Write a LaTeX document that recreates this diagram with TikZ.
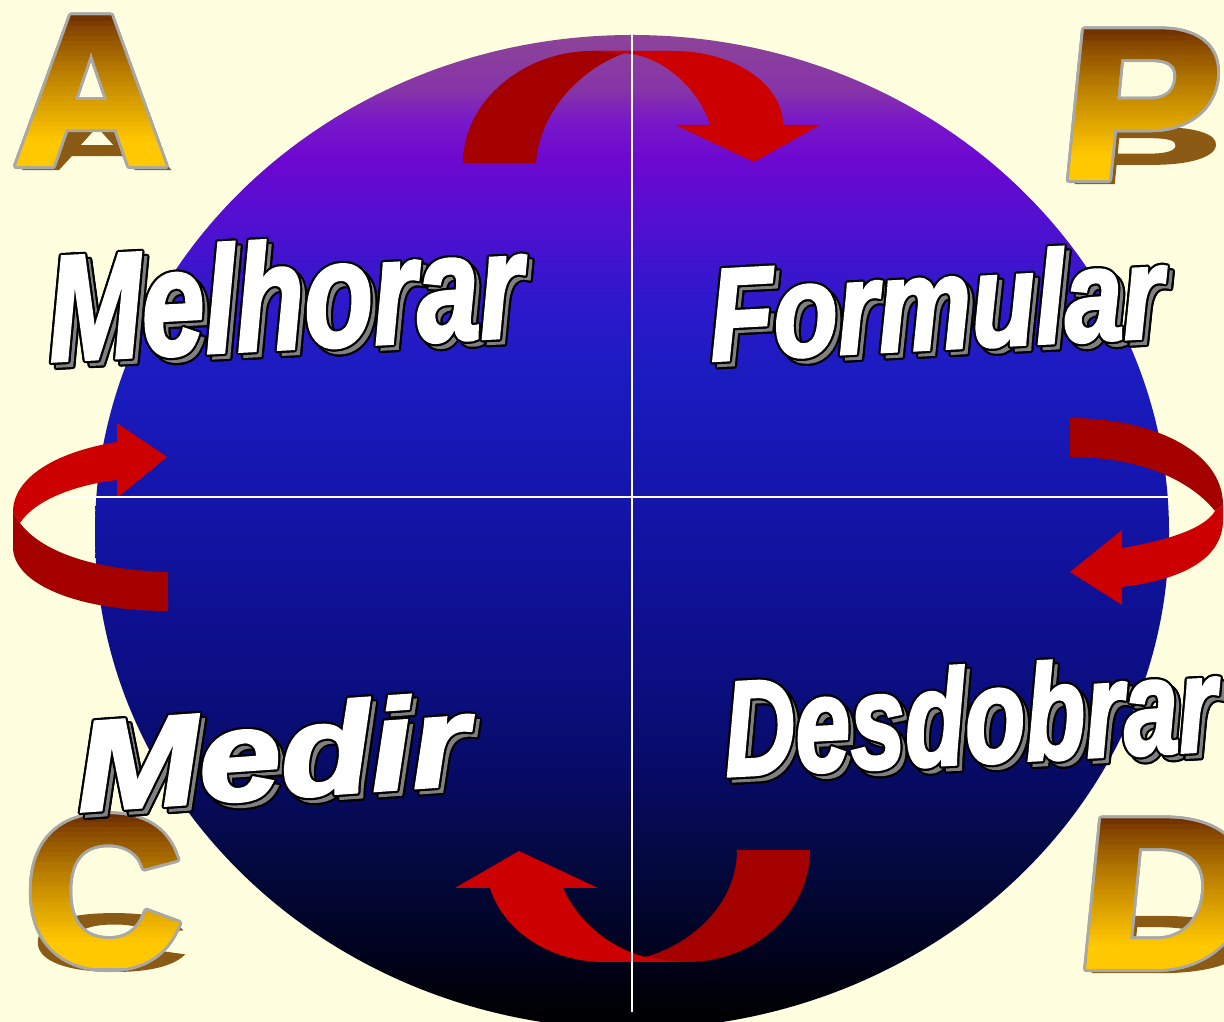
\documentclass[tikz,border=0pt]{standalone}
\usepackage{fontspec}
\newfontfamily\letterfont{Liberation Sans}[BoldFeatures={FakeBold=3}]
\newfontfamily\wafont{Liberation Sans}[BoldItalicFeatures={FakeBold=2.5}]

\definecolor{bgcream}{HTML}{FFFFE0}
\definecolor{arrowDark}{HTML}{A50000}
\definecolor{arrowLight}{HTML}{CC0000}
\definecolor{goldTop}{HTML}{5A1800}
\definecolor{goldBot}{HTML}{FFC800}
\definecolor{goldEdge}{HTML}{A8A8A8}
\definecolor{goldShadow}{HTML}{8B5A14}
\definecolor{waShadow}{HTML}{808080}

% degrade do globo (de baixo para cima)
\definecolor{g01}{HTML}{000008}
\definecolor{g02}{HTML}{00021A}
\definecolor{g03}{HTML}{020630}
\definecolor{g04}{HTML}{040A48}
\definecolor{g05}{HTML}{070A62}
\definecolor{g06}{HTML}{0A0E7C}
\definecolor{g07}{HTML}{0E1090}
\definecolor{g08}{HTML}{1616B0}
\definecolor{g09}{HTML}{1A1CC0}
\definecolor{g10}{HTML}{2E18CC}
\definecolor{g11}{HTML}{5010D0}
\definecolor{g12}{HTML}{6C08D0}
\definecolor{g13}{HTML}{7818C8}
\definecolor{g14}{HTML}{8634A8}
\definecolor{g15}{HTML}{8C4498}
\pgfdeclareverticalshading{globeshade}{100bp}{color(0bp)=(black); color(25bp)=(black);
  color(26.5bp)=(g01); color(28.5bp)=(g02); color(31.5bp)=(g03); color(34.5bp)=(g04);
  color(37.5bp)=(g05); color(41.5bp)=(g06); color(45.6bp)=(g07); color(53.1bp)=(g08);
  color(57.9bp)=(g09); color(61.7bp)=(g10); color(65.4bp)=(g11); color(68.7bp)=(g12);
  color(70.7bp)=(g13); color(72.2bp)=(g14); color(75bp)=(g15); color(100bp)=(g15)}

% letra dourada: nome, x, linha de base, letra, escala x, inclinacao
\newcommand{\goldletter}[6]{%
  \begin{scope}[shift={(#2,#3)}, xslant=#6]
    \node[letter, text=goldShadow] (#1-sh) at (6,-6) {\scalebox{#5}[0.38]{#4}};
    \foreach \a [count=\k] in {0,22.5,...,337.5}
      \node[letter, text=goldEdge, shift={(\a:3)}] (#1-o\k) at (0,0) {\scalebox{#5}[1]{#4}};
    \foreach \i in {0,...,31} {
      \pgfmathtruncatemacro\pct{100*pow(min(1,(\i+0.5)/27.2),0.75)}
      \begin{scope}
        \clip (-20,{151-5*\i}) rectangle (260,{156.6-5*\i});
        \node[letter, text=goldBot!\pct!goldTop] (#1-f\i) at (0,0) {\scalebox{#5}[1]{#4}};
      \end{scope}
    }
  \end{scope}}

% palavra com contorno e sombra: nome, x, y, angulo, tamanho, escala x, texto
\newcommand{\wordart}[7]{%
  \foreach \a [count=\k] in {0,30,...,330}
    \node[wa, rotate=#4, text=black, shift={(\a:2.2)}] (#1-so\k) at (#2+5,#3-5) {\fontsize{#5}{#5}\selectfont\scalebox{#6}[1]{#7}};
  \node[wa, rotate=#4, text=waShadow] (#1-s) at (#2+5,#3-5) {\fontsize{#5}{#5}\selectfont\scalebox{#6}[1]{#7}};
  \foreach \a [count=\k] in {0,30,...,330}
    \node[wa, rotate=#4, text=black, shift={(\a:2.2)}] (#1-o\k) at (#2,#3) {\fontsize{#5}{#5}\selectfont\scalebox{#6}[1]{#7}};
  \node[wa, rotate=#4, text=white] (#1) at (#2,#3) {\fontsize{#5}{#5}\selectfont\scalebox{#6}[1]{#7}};}

\begin{document}
\begin{tikzpicture}[x=1pt, y=1pt,
  letter/.style={font=\letterfont\bfseries\fontsize{210}{210}\selectfont, anchor=base west, inner sep=0pt, transform shape},
  wa/.style={font=\wafont\bfseries\itshape, inner sep=0pt},
  arrowback/.style={fill=arrowDark},
  arrowfront/.style={fill=arrowLight},
  crossline/.style={draw=white, line width=2}
]
\useasboundingbox (0,0) rectangle (1224,1022);
\clip (0,0) rectangle (1224,1022);
\fill[bgcream] (0,0) rectangle (1224,1022);

% globo
\shade[shading=globeshade] (632,490) ellipse [x radius=537, y radius=497];

% setas do ciclo
\begin{scope}[shift={(0,1022)}, yscale=-1]
\fill[arrowback] (463,163) .. controls (463,101) and (524,51) .. (592,51) -- (632,51)
  .. controls (590,62) and (540,105) .. (536,163) -- cycle;
\fill[arrowfront] (592,51) -- (673,51) .. controls (734,51) and (783,84) .. (783,125)
  -- (820,125) -- (754,162) -- (675,125) -- (710,125) .. controls (700,92) and (668,60) .. (632,54) -- cycle;

\fill[arrowback] (1070,418) .. controls (1150,418) and (1223,450) .. (1223,505) -- (1215,511)
  .. controls (1190,480) and (1140,457) .. (1070,457) -- cycle;
\fill[arrowfront] (1223,505) -- (1223,520) .. controls (1223,560) and (1180,580) .. (1122,587)
  -- (1122,605) -- (1070,572) -- (1122,530) -- (1122,548) .. controls (1170,540) and (1205,528) .. (1215,511) -- cycle;

\fill[arrowback] (737,850) -- (810,850) .. controls (810,912) and (755,962) .. (687,962) -- (650,962)
  -- (645,957) .. controls (690,945) and (737,905) .. (737,850) -- cycle;
\fill[arrowfront] (598,888) -- (563,888) .. controls (580,925) and (612,948) .. (645,957) -- (680,962)
  -- (603,962) .. controls (555,962) and (505,935) .. (490,888) -- (455,888) -- (519,851) -- cycle;

\fill[arrowback] (13,512) -- (13,547) .. controls (13,585) and (80,611) .. (168,611) -- (168,572)
  .. controls (90,570) and (40,550) .. (20,523) -- cycle;
\fill[arrowfront] (117,442) .. controls (55,452) and (13,478) .. (13,512) -- (20,523)
  .. controls (35,500) and (75,485) .. (117,480) -- (117,498) -- (167,457) -- (117,423) -- cycle;
\end{scope}

% eixos
\draw[crossline] (632,989) -- (632,10);
\draw[crossline] (60,525) -- (1168,525);

% letras PDCA
\goldletter{lA}{15}{859}{A}{1.0}{0}
\goldletter{lP}{1057}{845}{P}{1.1}{0.1}
\goldletter{lC}{26}{58}{C}{1.02}{0}
\goldletter{lD}{1074}{56}{D}{1.12}{0.1}

% etapas
\wordart{wMelhorar}{285}{727}{3}{150}{0.75}{Melhorar}
\wordart{wFormular}{936}{720}{3}{131}{0.8}{Formular}
\wordart{wMedir}{272}{270}{4}{128}{1.15}{Medir}
\wordart{wDesdobrar}{970}{307}{3}{135}{0.73}{Desdobrar}
\end{tikzpicture}
\end{document}
